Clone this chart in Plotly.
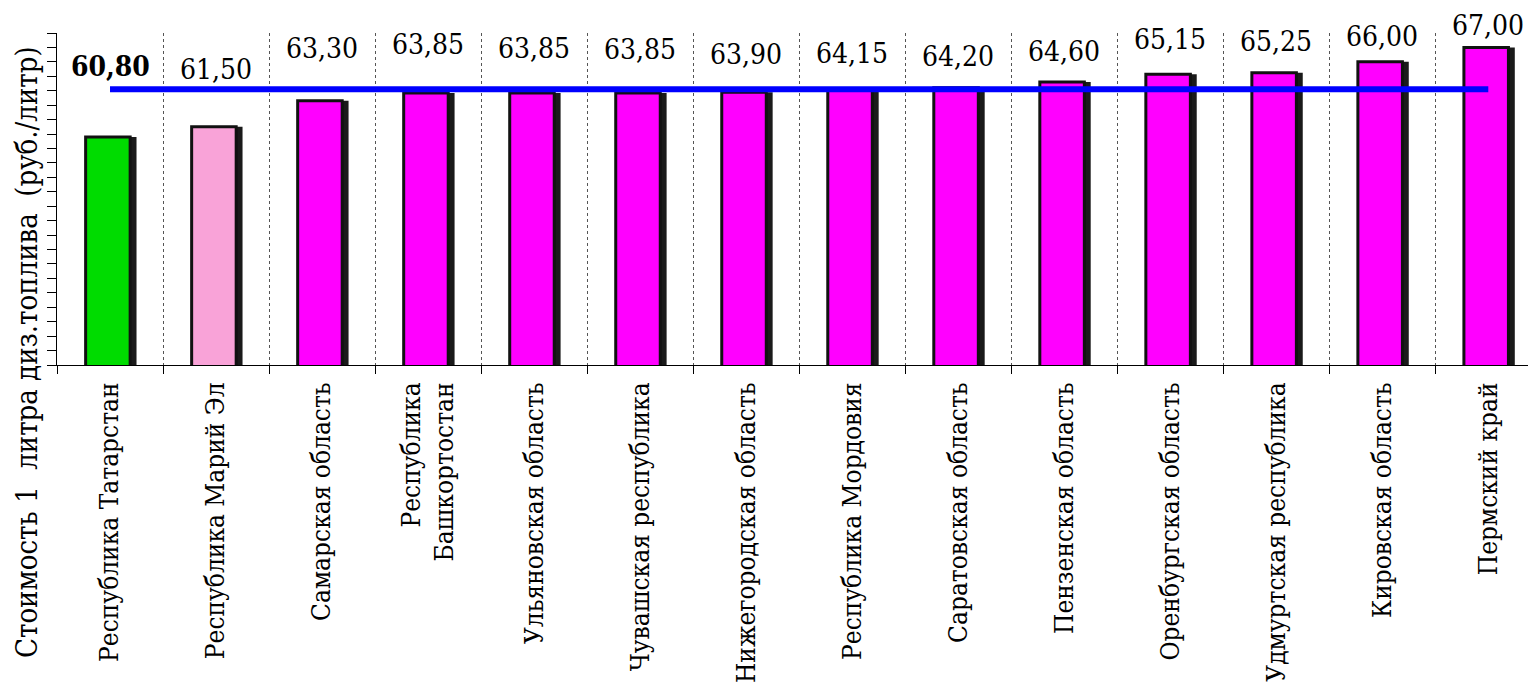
import numpy as np
import plotly.graph_objects as go

categories = [
    "Республика Татарстан",
    "Республика Марий Эл",
    "Самарская область",
    "Республика<br>Башкортостан",
    "Ульяновская область",
    "Чувашская республика",
    "Нижегородская область",
    "Республика Мордовия",
    "Саратовская область",
    "Пензенская область",
    "Оренбургская область",
    "Удмуртская республика",
    "Кировская область",
    "Пермский край",
]
values = [60.80, 61.50, 63.30, 63.85, 63.85, 63.85, 63.90, 64.15, 64.20, 64.60, 65.15, 65.25, 66.00, 67.00]
value_labels = [f"{v:.2f}".replace(".", ",") for v in values]

# styling (not data)
bar_colors = ["#00DC00", "#F9A3D8"] + ["#FF00FF"] * 12
label_shift = [70, 57, 52, 48, 44, 43, 38, 35, 31, 31, 35, 31, 25, 22]
FONT = "DejaVu Serif Condensed"

mean_val = float(np.mean(values))

fig = go.Figure()

# shadow bars
fig.add_trace(go.Bar(
    x=categories, y=values, base=0,
    width=0.44, offset=-0.19,
    marker=dict(color="#1a1a1a", line=dict(width=0)),
    hoverinfo="skip", showlegend=False,
))
# main bars
fig.add_trace(go.Bar(
    x=categories, y=values,
    width=0.42, offset=-0.23,
    marker=dict(color=bar_colors, line=dict(color="#111111", width=3)),
    showlegend=False,
))
# mean line
fig.add_trace(go.Scatter(
    x=[categories[0], categories[-1]], y=[mean_val, mean_val],
    mode="lines", line=dict(color="#0000FF", width=6),
    showlegend=False, hoverinfo="skip",
))

annotations = []
for i, (c, v, t) in enumerate(zip(categories, values, value_labels)):
    annotations.append(dict(
        x=c, y=v, xref="x", yref="y", text=("<b>%s</b>" % t) if i == 0 else t,
        showarrow=False, yshift=label_shift[i], yanchor="middle", xanchor="center",
        font=dict(family=FONT, size=28, color="black"),
    ))

annotations.append(dict(
    x=-30 / 1479, y=(365 - 352) / 332, xref="paper", yref="paper",
    text="Стоимость 1\u00a0 литра диз.топлива\u00a0 (руб./литр)",
    textangle=-90, showarrow=False, xanchor="center", yanchor="middle",
    font=dict(family=FONT, size=29, color="black"),
))

fig.update_layout(
    width=1528, height=677,
    margin=dict(l=49, r=0, t=25, b=320, autoexpand=False),
    paper_bgcolor="white", plot_bgcolor="white",
    barmode="overlay",
    annotations=annotations,
    font=dict(family=FONT, color="black"),
)
fig.update_xaxes(
    type="category",
    automargin=False,
    range=[-0.5, 13.45],
    tickson="boundaries",
    showgrid=True, gridcolor="#555555", gridwidth=1, griddash="dot",
    showline=True, linecolor="black", linewidth=1,
    ticks="outside", ticklen=8, tickcolor="black",
    tickangle=-90, ticklabelstandoff=6,
    tickfont=dict(family=FONT, size=26, color="black"),
)
fig.update_yaxes(
    automargin=False,
    range=[45, 68], tick0=45, dtick=1,
    showticklabels=False, showgrid=False, zeroline=False,
    showline=True, linecolor="black", linewidth=1,
    ticks="outside", ticklen=9, tickcolor="black",
)

fig.write_html("out.html")
